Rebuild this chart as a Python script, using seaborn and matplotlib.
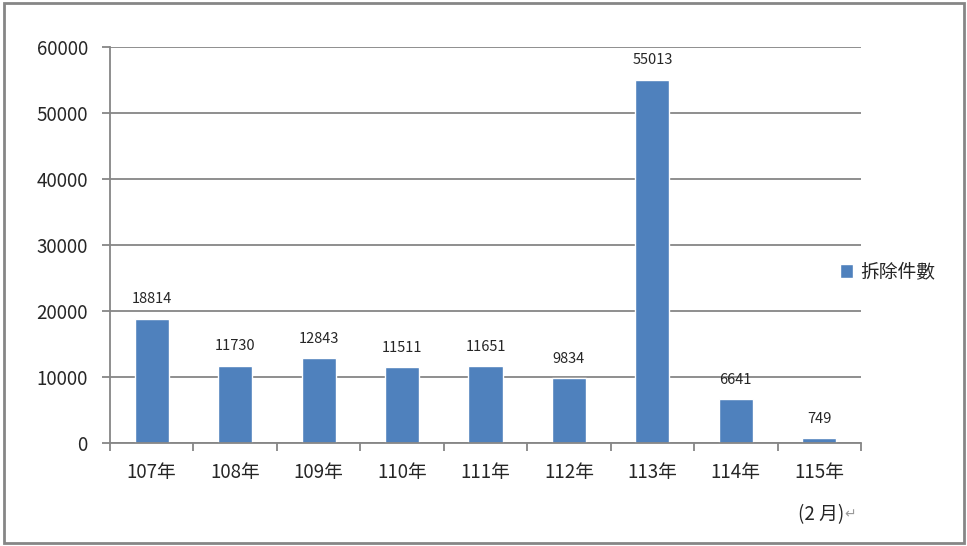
import matplotlib
matplotlib.use("Agg")
import matplotlib.pyplot as plt
import seaborn as sns
import pandas as pd
import numpy as np
from matplotlib.patches import Rectangle

categories = ["107年", "108年", "109年", "110年", "111年", "112年", "113年", "114年", "115年"]
values = [18814, 11730, 12843, 11511, 11651, 9834, 55013, 6641, 749]
series_name = "拆除件數"
yticks = [0, 10000, 20000, 30000, 40000, 50000, 60000]
last_note = "(2 月)"
last_mark = "↵"

sns.set_theme(style="white")
plt.rcParams['font.family'] = ['Noto Sans CJK TC', 'DejaVu Sans']

df = pd.DataFrame({"year": categories, "count": values, "series": series_name})

fig = plt.figure(figsize=(9.67, 5.46), dpi=100)
ax = fig.add_axes([110/967, 1-443/546, (861-110)/967, (443-47)/546])

bar_color = "#4F81BD"
sns.barplot(data=df, x="year", y="count", hue="series", palette=[bar_color],
            width=0.41, ax=ax, saturation=1, legend=True)

ax.set_xlim(-0.5, len(categories) - 0.5)
ax.set_ylim(0, 60000)
ax.set_yticks(yticks)
ax.set_yticklabels([str(t) for t in yticks], fontsize=13.5)
ax.grid(axis="y", color="#868686", linewidth=1.3)
ax.set_axisbelow(True)
ax.set_xlabel("")
ax.set_ylabel("")

for s in ["top", "right"]:
    ax.spines[s].set_visible(False)
for s in ["left", "bottom"]:
    ax.spines[s].set_color("#868686")
    ax.spines[s].set_linewidth(1.3)

ax.tick_params(axis="y", which="major", length=6, color="#868686", width=1.3, direction="out", pad=10, left=True)
ax.set_xticks(range(len(categories)))
ax.set_xticklabels(categories, fontsize=13.5)
ax.tick_params(axis="x", which="major", length=0, pad=14)
ax.set_xticks(np.arange(-0.5, len(categories), 1.0), minor=True)
ax.tick_params(axis="x", which="minor", length=6, color="#868686", width=1.3, direction="out", bottom=True)

for i, v in enumerate(values):
    ax.annotate(str(v), (i, v), xytext=(0, 9), textcoords="offset points",
                ha="center", va="bottom", fontsize=10.5)

ax.text(len(categories) - 1 + 0.02, -0.155, last_note, transform=ax.get_xaxis_transform(),
        ha="center", va="top", fontsize=13.5)
ax.text(len(categories) - 1 + 0.3, -0.163, last_mark, transform=ax.get_xaxis_transform(),
        ha="left", va="top", fontsize=10, color="#9a9a9a")

leg = ax.legend(loc="center left", bbox_to_anchor=(823/967, 1-272/546),
                bbox_transform=fig.transFigure, frameon=False,
                fontsize=13.5, handlelength=0.7, handleheight=0.7, handletextpad=0.4)

fig.patches.append(Rectangle((4/967, 3/546), 960/967, 540/546, transform=fig.transFigure,
                             fill=False, edgecolor="#868686", linewidth=2))

fig.savefig("out.png", dpi=100)
